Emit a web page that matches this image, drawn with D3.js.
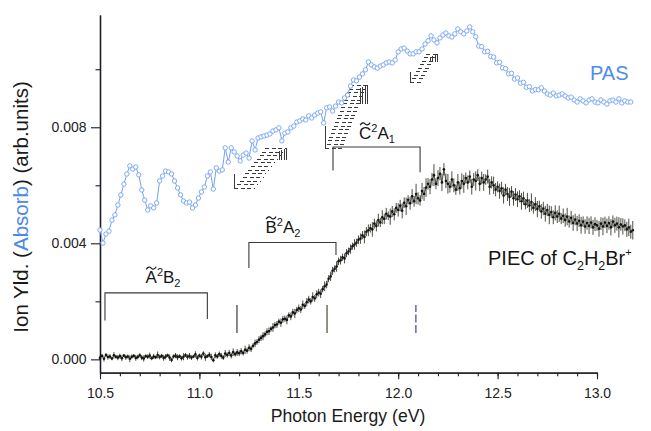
<!DOCTYPE html>
<html>
<head>
<meta charset="utf-8">
<script src="https://cdn.jsdelivr.net/npm/d3@7"></script>
<style>
  body { margin: 0; background: #fff; }
  svg { display: block; }
  text { font-family: "Liberation Sans", Arial, sans-serif; }
</style>
</head>
<body>
<svg id="chart" width="651" height="431"></svg>
<script>
// ---- axis ticks ----
const xTickValues = [10.5, 11.0, 11.5, 12.0, 12.5, 13.0];
const xTickLabels = ["10.5", "11.0", "11.5", "12.0", "12.5", "13.0"];
const yTickValues = [0, 0.004, 0.008];
const yTickLabels = ["0.000", "0.004", "0.008"];
const yMinorValues = [0.002, 0.006, 0.010];

// ---- PAS absorption spectrum (photon energy grid: start + i*step, eV) ----
const pasStart = 10.5, pasStep = 0.015;
const pasValues = [
  0.00446,0.00401,0.00432,0.00442,0.00480,0.00498,0.00532,0.00567,0.00604,0.00639,
  0.00667,0.00656,0.00663,0.00636,0.00584,0.00549,0.00515,0.00529,0.00522,0.00539,
  0.00615,0.00632,0.00649,0.00646,0.00639,0.00615,0.00591,0.00567,0.00546,0.00539,
  0.00542,0.00522,0.00532,0.00556,0.00577,0.00594,0.00632,0.00646,0.00587,0.00660,
  0.00649,0.00653,0.00729,0.00680,0.00729,0.00715,0.00701,0.00684,0.00704,0.00711,
  0.00694,0.00753,0.00722,0.00763,0.00767,0.00770,0.00773,0.00777,0.00787,0.00791,
  0.00798,0.00753,0.00780,0.00784,0.00798,0.00804,0.00818,0.00822,0.00829,0.00825,
  0.00839,0.00832,0.00842,0.00849,0.00853,0.00815,0.00867,0.00870,0.00856,0.00873,
  0.00887,0.00884,0.00901,0.00911,0.00942,0.00963,0.00960,0.00973,0.00984,0.00998,
  0.01025,0.01015,0.01008,0.01004,0.01011,0.01015,0.01022,0.01025,0.01022,0.01032,
  0.01060,0.01070,0.01073,0.01063,0.01053,0.01053,0.01060,0.01060,0.01070,0.01087,
  0.01098,0.01115,0.01101,0.01091,0.01108,0.01118,0.01125,0.01115,0.01111,0.01122,
  0.01139,0.01129,0.01122,0.01132,0.01146,0.01129,0.01112,0.01080,0.01078,0.01060,
  0.01062,0.01044,0.01042,0.01022,0.01024,0.01005,0.01002,0.00984,0.00986,0.00966,
  0.00970,0.00952,0.00955,0.00938,0.00940,0.00925,0.00930,0.00929,0.00936,0.00925,
  0.00915,0.00911,0.00918,0.00908,0.00911,0.00915,0.00908,0.00901,0.00904,0.00894,
  0.00887,0.00898,0.00891,0.00884,0.00894,0.00898,0.00887,0.00884,0.00894,0.00887,
  0.00880,0.00891,0.00894,0.00887,0.00898,0.00884,0.00891,0.00887,0.00887
];

// ---- PIEC of C2H2Br+ with error bars ----
const piecStart = 10.5, piecStep = 0.01;
const piecValues = [
  0.00005,0.00012,0.00002,0.00015,0.00008,0.00010,0.00003,0.00014,0.00009,0.00006,
  0.00011,0.00004,0.00013,0.00007,0.00010,0.00002,0.00009,0.00012,0.00005,0.00008,
  0.00014,0.00006,0.00003,0.00011,0.00009,0.00013,0.00004,0.00010,0.00007,0.00015,
  0.00008,0.00012,0.00005,0.00009,0.00014,0.00006,-0.00002,0.00010,0.00013,0.00007,
  0.00011,0.00004,0.00009,0.00015,0.00008,0.00012,0.00006,0.00010,0.00017,0.00005,
  0.00013,0.00009,0.00020,0.00007,0.00011,0.00016,0.00008,-0.00003,0.00014,0.00010,
  0.00018,
  0.00012,0.00006,0.00020,0.00015,0.00022,0.00013,0.00025,0.00018,0.00024,0.00021,
  0.00028,0.00022,0.00033,0.00030,0.00040,0.00036,0.00047,0.00055,0.00060,0.00068,
  0.00074,0.00080,0.00086,0.00095,0.00097,0.00105,0.00110,0.00118,0.00120,0.00130,
  0.00126,0.00138,0.00140,0.00136,0.00152,0.00148,0.00162,0.00158,0.00170,0.00176,
  0.00172,0.00188,0.00184,0.00197,0.00206,0.00200,0.00215,0.00210,0.00224,0.00230,
  0.00226,0.00242,0.00252,0.00258,0.00278,0.00286,0.00305,0.00312,0.00320,0.00338,
  0.00342,0.00352,0.00348,0.00366,0.00372,0.00380,0.00390,0.00396,0.00402,0.00412,
  0.00416,0.00428,0.00422,0.00440,0.00445,0.00452,0.00448,0.00468,0.00460,0.00480,
  0.00472,0.00490,0.00484,0.00502,0.00495,0.00492,0.00510,0.00500,0.00522,0.00515,
  0.00530,0.00512,0.00540,0.00528,0.00550,0.00538,0.00562,0.00545,0.00570,0.00555,
  0.00548,0.00580,0.00570,0.00592,0.00605,0.00595,0.00620,0.00635,0.00605,0.00625,
  0.00640,0.00610,0.00655,0.00615,0.00605,0.00595,0.00620,0.00600,0.00585,0.00610,
  0.00590,0.00615,0.00605,0.00625,0.00610,0.00630,0.00595,0.00620,0.00615,0.00635,
  0.00605,0.00625,0.00610,0.00620,0.00630,0.00595,0.00610,0.00600,0.00585,0.00595,
  0.00580,0.00590,0.00565,0.00585,0.00570,0.00560,0.00578,0.00555,0.00568,0.00552,
  0.00562,0.00545,0.00555,0.00535,0.00548,0.00530,0.00542,0.00522,0.00535,0.00518,
  0.00528,0.00510,0.00520,0.00502,0.00515,0.00498,0.00508,0.00490,0.00505,0.00492,
  0.00502,0.00485,0.00495,0.00480,0.00492,0.00475,0.00488,0.00470,0.00482,0.00468,
  0.00478,0.00462,0.00475,0.00458,0.00470,0.00460,0.00472,0.00455,0.00466,0.00462,
  0.00450,0.00468,0.00458,0.00472,0.00460,0.00470,0.00455,0.00475,0.00462,0.00468,
  0.00455,0.00465,0.00458,0.00462,0.00448,0.00455,0.00440,0.00445
];
const piecErrors = [
  0.00008,0.00006,0.00010,0.00007,0.00009,0.00008,0.00006,0.00011,0.00007,0.00009,
  0.00008,0.00010,0.00006,0.00009,0.00007,0.00012,0.00008,0.00006,0.00010,0.00008,
  0.00007,0.00009,0.00011,0.00006,0.00008,0.00010,0.00007,0.00009,0.00006,0.00012,
  0.00008,0.00007,0.00010,0.00009,0.00006,0.00011,0.00008,0.00007,0.00009,0.00010,
  0.00006,0.00008,0.00012,0.00007,0.00009,0.00010,0.00008,0.00006,0.00011,0.00009,
  0.00007,0.00010,0.00008,0.00012,0.00006,0.00009,0.00011,0.00007,0.00010,0.00008,
  0.00009,
  0.00010,0.00008,0.00012,0.00009,0.00011,0.00010,0.00013,0.00008,0.00012,0.00010,
  0.00011,0.00009,0.00014,0.00010,0.00012,0.00011,0.00009,0.00013,0.00010,0.00012,
  0.00011,0.00014,0.00010,0.00012,0.00013,0.00009,0.00015,0.00011,0.00012,0.00010,
  0.00014,0.00012,0.00011,0.00015,0.00010,0.00013,0.00012,0.00016,0.00011,0.00013,
  0.00012,0.00015,0.00010,0.00014,0.00013,0.00011,0.00016,0.00012,0.00014,0.00013,
  0.00015,0.00011,0.00017,0.00013,0.00012,0.00016,0.00014,0.00012,0.00018,0.00013,
  0.00015,0.00012,0.00017,0.00014,0.00013,0.00016,0.00012,0.00018,0.00014,0.00015,
  0.00018,0.00014,0.00022,0.00016,0.00020,0.00015,0.00025,0.00017,0.00019,0.00022,
  0.00016,0.00024,0.00018,0.00020,0.00015,0.00028,0.00019,0.00021,0.00017,0.00023,
  0.00020,0.00026,0.00018,0.00030,0.00016,0.00022,0.00025,0.00019,0.00035,0.00021,
  0.00018,0.00028,0.00024,0.00032,0.00020,0.00026,0.00022,0.00038,0.00019,0.00027,
  0.00023,0.00030,0.00021,0.00025,0.00034,0.00020,0.00028,0.00024,0.00018,0.00029,
  0.00022,0.00026,0.00031,0.00019,0.00024,0.00021,0.00027,0.00023,0.00033,0.00020,
  0.00025,0.00022,0.00029,0.00018,0.00024,0.00027,0.00021,0.00030,0.00023,0.00019,
  0.00026,0.00022,0.00028,0.00020,0.00024,0.00031,0.00019,0.00025,0.00022,0.00027,
  0.00021,0.00029,0.00023,0.00018,0.00026,0.00022,0.00030,0.00020,0.00024,0.00028,
  0.00019,0.00025,0.00023,0.00027,0.00021,0.00032,0.00020,0.00024,0.00026,0.00022,
  0.00028,0.00019,0.00025,0.00023,0.00030,0.00021,0.00024,0.00027,0.00020,0.00026,
  0.00022,0.00029,0.00018,0.00025,0.00023,0.00028,0.00021,0.00026,0.00024,0.00019,
  0.00027,0.00022,0.00030,0.00020,0.00025,0.00023,0.00028,0.00021,0.00026,0.00024,
  0.00035,0.00022,0.00028,0.00020,0.00026,0.00030,0.00024,0.00032
];

// ---- electronic-state brackets: [E start, E end, top value, left leg end, right leg end] ----
const bracketA = [10.525, 11.040, 0.00229, 0.00134, 0.00139];
const bracketB = [11.249, 11.687, 0.00403, 0.00315, 0.00360];
const bracketC = [11.672, 12.110, 0.00732, 0.00651, 0.00645];

// ---- state labels: [centre E, baseline value] ----
const labelA = { pos: [10.817, 0.00263], main1: "A", sup: "2", main2: "B", sub: "2" };
const labelB = { pos: [11.420, 0.00436], main1: "B", sup: "2", main2: "A", sub: "2" };
const labelC = { pos: [11.893, 0.00760], main1: "C", sup: "2", main2: "A", sub: "1" };

// ---- onset markers: [E] and common value span ----
const markerEnergies = [11.189, 11.642, 12.089];
const markerRange = [0.00091, 0.00187];

// ---- vibrational progression ladders: [E0, v0, E1, v1] (lower-left to upper-right) ----
const ladder1 = [11.174, 0.00591, 11.436, 0.00729];
const ladder2 = [11.632, 0.00729, 11.843, 0.00946];
const ladder3 = [12.059, 0.00956, 12.195, 0.01053];

// ---------------------------------------------------------------------
const svg = d3.select("#chart");
svg.append("rect").attr("width", 651).attr("height", 431).attr("fill", "#fff");

const x = d3.scaleLinear().domain([10.5, 13.0]).range([100, 597]);
const y = d3.scaleLinear().domain([-0.00046, 0.01187]).range([372.7, 15]);
const snap = v => Math.round(v) + 0.5;

const axisColor = "#1c1c26";
const pasColor = "#72a2f0";

// x axis: minor every 0.1 eV, labelled every 0.5 eV
const xMinorValues = d3.range(0, 26).map(i => +(10.5 + i * 0.1).toFixed(1));
const xAxisY = y.range()[0];
const gxMinor = svg.append("g").attr("transform", `translate(0,${xAxisY})`)
  .call(d3.axisBottom(x).tickValues(xMinorValues).tickSize(3.5).tickSizeOuter(0).tickFormat(""));
const gx = svg.append("g").attr("transform", `translate(0,${xAxisY})`)
  .call(d3.axisBottom(x).tickValues(xTickValues).tickSize(6.5).tickSizeOuter(0)
    .tickFormat((d, i) => xTickLabels[i]));
gx.selectAll("text").attr("y", 15.5).attr("font-size", 14).attr("fill", "#222")
  .style("font-family", "'Liberation Sans', Arial, sans-serif");

// y axis
const gyMinor = svg.append("g").attr("transform", "translate(100,0)")
  .call(d3.axisLeft(y).tickValues(yMinorValues).tickSize(4.5).tickSizeOuter(0).tickFormat(""));
const gy = svg.append("g").attr("transform", "translate(100,0)")
  .call(d3.axisLeft(y).tickValues(yTickValues).tickSize(9).tickSizeOuter(0)
    .tickFormat((d, i) => yTickLabels[i]));
gy.selectAll("text").attr("x", -13.5).attr("font-size", 14).attr("fill", "#222")
  .style("font-family", "'Liberation Sans', Arial, sans-serif");

[gxMinor, gx, gyMinor, gy].forEach(g => {
  g.selectAll(".domain").attr("stroke", axisColor).attr("stroke-width", 1.3);
  g.selectAll(".tick line").attr("stroke", axisColor).attr("stroke-width", 1.1);
});

// axis titles
svg.append("text").attr("x", 348).attr("y", 422).attr("text-anchor", "middle")
  .attr("font-size", 17.6).attr("fill", "#1a1a1a").text("Photon Energy (eV)");

const yTitle = svg.append("text").attr("transform", "translate(28,207) rotate(-90)")
  .attr("text-anchor", "middle").attr("font-size", 20.5).attr("fill", "#1a1a1a");
yTitle.append("tspan").text("Ion Yld. (");
yTitle.append("tspan").attr("fill", "#4a88ea").text("Absorb");
yTitle.append("tspan").text(") (arb.units)");

// ---- ladders: staggered rows of short dashes with end combs ----
const gLad = svg.append("g").attr("stroke", "#3a3a3a").attr("stroke-width", 1).attr("fill", "none")
  .attr("shape-rendering", "crispEdges");
function drawLadder(l) {
  const x0 = x(l[0]), y0 = y(l[1]), x1 = x(l[2]), y1 = y(l[3]);
  const H = y0 - y1, W = x1 - x0;
  const n = Math.max(4, Math.round(H / 3.6));
  const band = W * 0.4;
  for (let k = 0; k <= n; k++) {
    const t = k / n;
    const yy = snap(y0 - t * H);
    const xa = Math.round(x0 + t * (W - band));
    gLad.append("line").attr("x1", xa).attr("x2", xa + band).attr("y1", yy).attr("y2", yy)
      .attr("stroke-dasharray", "4,2.5");
  }
  gLad.append("line").attr("x1", snap(x0)).attr("x2", snap(x0))
    .attr("y1", y0).attr("y2", y0 - H * 0.35);
  for (let j = 0; j < 4; j++) {
    const xx = snap(x1 - j * 2.4);
    gLad.append("line").attr("x1", xx).attr("x2", xx)
      .attr("y1", y1 + j * 0.9).attr("y2", y1 + H * 0.3);
  }
}
[ladder1, ladder2, ladder3].forEach(drawLadder);

// ---- brackets ----
const gBr = svg.append("g").attr("stroke", "#3a3a3a").attr("stroke-width", 1.1).attr("fill", "none");
[bracketA, bracketB, bracketC].forEach(b => {
  const path = d3.path();
  path.moveTo(x(b[0]), y(b[3]));
  path.lineTo(x(b[0]), y(b[2]));
  path.lineTo(x(b[1]), y(b[2]));
  path.lineTo(x(b[1]), y(b[4]));
  gBr.append("path").attr("d", path.toString());
});

// ---- state labels (tilde drawn as a small wave over the first letter) ----
function stateLabel(lab) {
  const bx = x(lab.pos[0]), by = y(lab.pos[1]);
  const t = svg.append("text").attr("y", by).attr("font-size", 17).attr("fill", "#151515");
  const first = t.append("tspan").text(lab.main1);
  t.append("tspan").attr("font-size", 11).attr("dy", -7).text(lab.sup);
  t.append("tspan").attr("dy", 7).text(lab.main2);
  t.append("tspan").attr("font-size", 11).attr("dy", 4).text(lab.sub);
  const w = t.node().getComputedTextLength();
  const x0 = bx - w / 2;
  t.attr("x", x0);
  const cx = x0 + first.node().getComputedTextLength() / 2;
  const ty = by - 15;
  svg.append("path")
    .attr("d", `M${cx - 5},${ty + 1.3} Q${cx - 2.5},${ty - 2.6} ${cx},${ty} T${cx + 5},${ty - 1.3}`)
    .attr("fill", "none").attr("stroke", "#151515").attr("stroke-width", 1.2);
}
[labelA, labelB, labelC].forEach(stateLabel);

// ---- onset markers ----
const markerStyles = [
  { color: "#3a3a3a", dash: null },
  { color: "#4a4a34", dash: null },
  { color: "#4040a8", dash: "8,2.5" }
];
markerEnergies.forEach((e, i) => {
  svg.append("line").attr("x1", x(e)).attr("x2", x(e))
    .attr("y1", y(markerRange[0])).attr("y2", y(markerRange[1]))
    .attr("stroke", markerStyles[i].color).attr("stroke-width", 1.2)
    .attr("stroke-dasharray", markerStyles[i].dash);
});

// ---- PAS curve ----
const pasData = pasValues.map((v, i) => ({ e: pasStart + i * pasStep, v }));
svg.append("path").datum(pasData)
  .attr("fill", "none").attr("stroke", pasColor).attr("stroke-width", 1)
  .attr("d", d3.line().x(d => x(d.e)).y(d => y(d.v)));
svg.append("g").selectAll("circle").data(pasData).join("circle")
  .attr("cx", d => x(d.e)).attr("cy", d => y(d.v)).attr("r", 2.2)
  .attr("fill", "#fff").attr("stroke", pasColor).attr("stroke-width", 0.9);

// ---- PIEC curve ----
const piecData = piecValues.map((v, i) => ({ e: piecStart + i * piecStep, v, err: piecErrors[i] || 0 }));
svg.append("path").datum(piecData)
  .attr("fill", "none").attr("stroke", "#3a3a32").attr("stroke-width", 0.7)
  .attr("d", d3.line().x(d => x(d.e)).y(d => y(d.v)));
svg.append("g").selectAll("line").data(piecData).join("line")
  .attr("x1", d => x(d.e)).attr("x2", d => x(d.e))
  .attr("y1", d => y(d.v - d.err)).attr("y2", d => y(d.v + d.err))
  .attr("stroke", "#1e1e16").attr("stroke-width", 0.8);
svg.append("g").selectAll("circle").data(piecData).join("circle")
  .attr("cx", d => x(d.e)).attr("cy", d => y(d.v)).attr("r", 1.3)
  .attr("fill", "#141410");

// ---- series labels ----
svg.append("text").attr("x", 590).attr("y", 80).attr("font-size", 20)
  .attr("fill", "#4f8de8").text("PAS");

const piecLabel = svg.append("text").attr("x", 488).attr("y", 265)
  .attr("font-size", 20).attr("fill", "#151515");
piecLabel.append("tspan").text("PIEC of C");
piecLabel.append("tspan").attr("font-size", 12.5).attr("dy", 5).text("2");
piecLabel.append("tspan").attr("dy", -5).text("H");
piecLabel.append("tspan").attr("font-size", 12.5).attr("dy", 5).text("2");
piecLabel.append("tspan").attr("dy", -5).text("Br");
piecLabel.append("tspan").attr("font-size", 11).attr("dy", -9).text("+");
</script>
</body>
</html>
